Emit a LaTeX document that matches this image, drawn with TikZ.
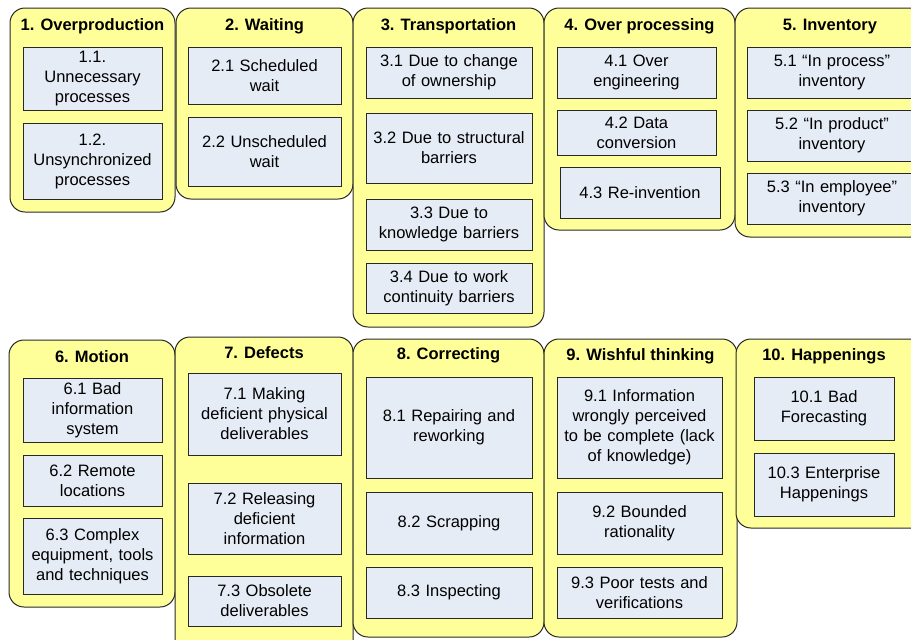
\documentclass[tikz,border=0pt]{standalone}
\usepackage{fontspec}
\setmainfont{Liberation Sans}
\definecolor{yfill}{RGB}{255,255,153}
\definecolor{bfill}{RGB}{230,236,246}
\definecolor{edge}{RGB}{40,40,40}
\newcommand\subbox[6]{%
  \node[sub,minimum width={#4-#2},minimum height={#5-#3},text width={#4-#2-6}] (#1) at ({(#2+#4)/2},{(#3+#5)/2}) {#6};}
\begin{document}
\begin{tikzpicture}[x=1pt,y=-1pt,
  cont/.style={draw=edge,fill=yfill,rounded corners=15pt,line width=1pt,inner sep=0pt},
  ttl/.style={font=\bfseries\fontsize{16.5}{19}\selectfont,inner sep=0pt},
  sub/.style={draw=edge,fill=bfill,line width=0.9pt,inner sep=0pt,align=center,
    font=\fontsize{16.5}{20}\selectfont}]
\useasboundingbox (0,0) rectangle (911,640);
\clip (0,0) rectangle (911,640);
% containers, top row
\node[cont,minimum width=165,minimum height=204] (c1) at (92.5,110) {};
\node[cont,minimum width=177,minimum height=191] (c2) at (264.5,103.5) {};
\node[cont,minimum width=191,minimum height=319] (c3) at (448.5,167.5) {};
\node[cont,minimum width=191,minimum height=222] (c4) at (639.5,119) {};
\node[cont,minimum width=195,minimum height=229] (c5) at (832.5,122.5) {};
% containers, bottom row
\node[cont,minimum width=166,minimum height=267] (c6) at (92,473.5) {};
\node[cont,minimum width=178,minimum height=320] (c7) at (264,497) {};
\node[cont,minimum width=191,minimum height=298] (c8) at (448.5,488) {};
\node[cont,minimum width=193,minimum height=298] (c9) at (640.5,488) {};
\node[cont,minimum width=194,minimum height=189] (c10) at (833,433.5) {};
% titles
\node[ttl,anchor=base] (t1) at (92.5,30) {1. Overproduction};
\node[ttl,anchor=base] (t2) at (264.5,30) {2. Waiting};
\node[ttl,anchor=base] (t3) at (448.5,30) {3. Transportation};
\node[ttl,anchor=base] (t4) at (639.5,30) {4. Over processing};
\node[ttl,anchor=base] (t5) at (830,30) {5. Inventory};
\node[ttl,anchor=base] (t6) at (92,362) {6. Motion};
\node[ttl,anchor=base] (t7) at (264,358) {7. Defects};
\node[ttl,anchor=base] (t8) at (448.5,359) {8. Correcting};
\node[ttl,anchor=base] (t9) at (640.5,360) {9. Wishful thinking};
\node[ttl,anchor=base] (t10) at (824,360) {10. Happenings};
% sub boxes
\subbox{s11}{23}{47}{162}{110}{1.1.\\Unnecessary\\processes}
\subbox{s12}{23}{123}{162}{199}{1.2.\\Unsynchronized\\processes}
\subbox{s21}{188}{47}{341}{104}{2.1 Scheduled\\wait}
\subbox{s22}{188}{117}{341}{186}{2.2 Unscheduled\\wait}
\subbox{s31}{366}{47}{532}{98}{3.1 Due to change\\of ownership}
\subbox{s32}{366}{113}{532}{183}{3.2 Due to structural\\barriers}
\subbox{s33}{366}{199}{532}{250}{3.3 Due to\\knowledge barriers}
\subbox{s34}{366}{263}{532}{313}{3.4 Due to work\\continuity barriers}
\subbox{s41}{557}{47}{716}{98}{4.1 Over\\engineering}
\subbox{s42}{557}{110}{716}{155}{4.2 Data\\conversion}
\subbox{s43}{560}{167}{720}{218}{4.3 Re-invention}
\subbox{s51}{747}{47}{917}{98}{5.1 “In process”\\inventory}
\subbox{s52}{747}{110}{917}{161}{5.2 “In product”\\inventory}
\subbox{s53}{747}{173}{917}{224}{5.3 “In employee”\\inventory}
\subbox{s61}{23}{378}{162}{442}{6.1 Bad\\information\\system}
\subbox{s62}{23}{455}{162}{506}{6.2 Remote\\locations}
\subbox{s63}{23}{518}{162}{594}{6.3 Complex\\equipment, tools\\and techniques}
\subbox{s71}{188}{373}{341}{455}{7.1 Making\\deficient physical\\deliverables}
\subbox{s72}{188}{483}{341}{554}{7.2 Releasing\\deficient\\information}
\subbox{s73}{188}{576}{341}{626}{7.3 Obsolete\\deliverables}
\subbox{s81}{366}{377}{532}{478}{8.1 Repairing and\\reworking}
\subbox{s82}{366}{492}{532}{554}{8.2 Scrapping}
\subbox{s83}{366}{567}{532}{618}{8.3 Inspecting}
\subbox{s91}{557}{377}{722}{478}{9.1 Information\\wrongly perceived\\to be complete (lack\\of knowledge)}
\subbox{s92}{557}{492}{722}{554}{9.2 Bounded\\rationality}
\subbox{s93}{557}{567}{722}{618}{9.3 Poor tests and\\verifications}
\subbox{s101}{754}{377}{894}{440}{10.1 Bad\\Forecasting}
\subbox{s103}{754}{453}{894}{516}{10.3 Enterprise\\Happenings}
\end{tikzpicture}
\end{document}
